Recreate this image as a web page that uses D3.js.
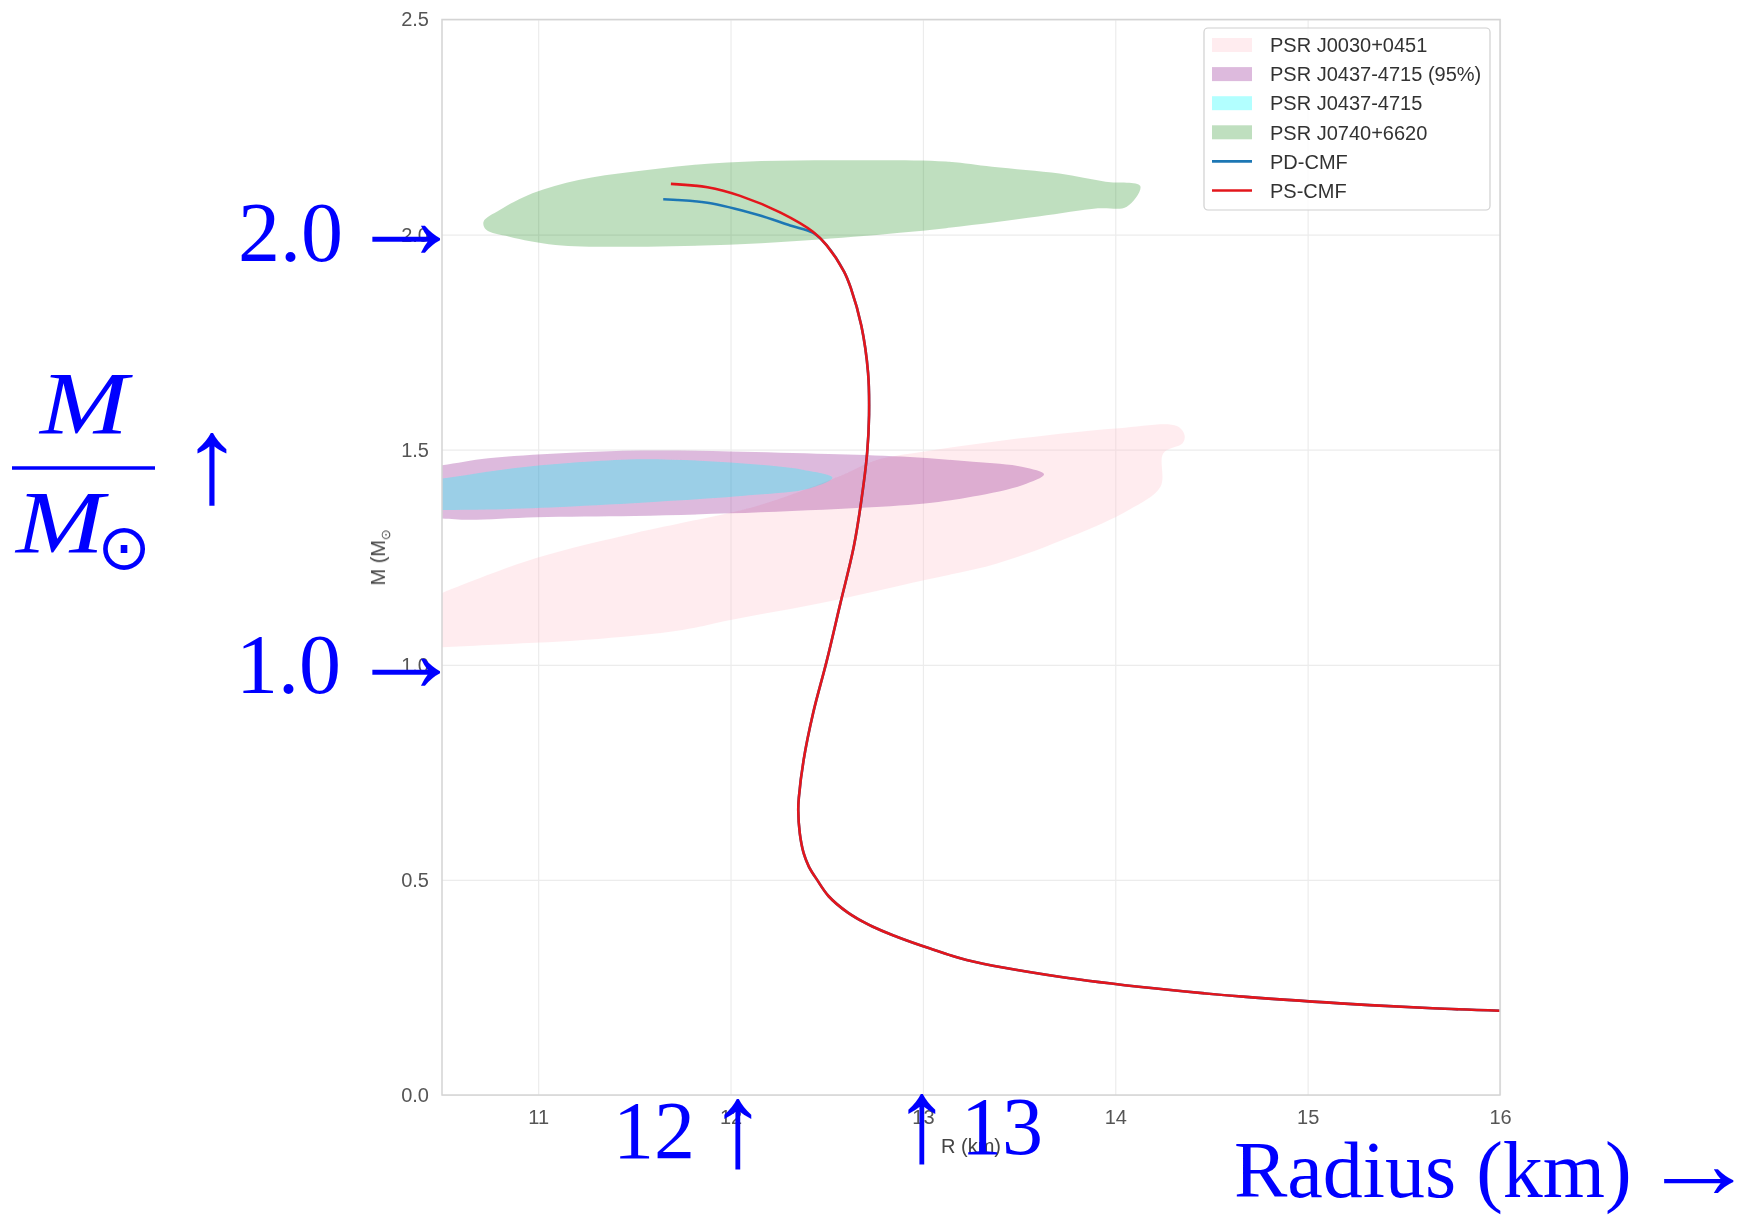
<!DOCTYPE html>
<html>
<head>
<meta charset="utf-8">
<script src="https://cdn.jsdelivr.net/npm/d3@7"></script>
<style>
  body { margin: 0; background: #fff; }
  svg { display: block; }
  .tick text { fill: #555; font-family: "Liberation Sans", Arial, sans-serif; font-size: 20px; }
  .anno { fill: #0000ff; font-family: "Liberation Serif", "DejaVu Serif", serif; }
</style>
</head>
<body>
<svg id="chart"></svg>
<script>
// axis ticks
var xTicks = [11, 12, 13, 14, 15, 16];
var yTicks = [0, 0.5, 1.0, 1.5, 2.0, 2.5];

// credible regions, [R (km), M (Msun)]
var j0030 = [[10.3, 1.13], [10.5, 1.167], [10.99, 1.248], [11.5, 1.306], [11.75, 1.33], [12.13, 1.368],
    [12.56, 1.437], [12.76, 1.476], [13.01, 1.496], [13.52, 1.527], [14.02, 1.55], [14.32, 1.555],
    [14.36, 1.534], [14.35, 1.515], [14.25, 1.492], [14.235, 1.414], [14.07, 1.36], [13.77, 1.298],
    [13.39, 1.236], [13.01, 1.197], [12.51, 1.147], [12.0, 1.104], [11.75, 1.081], [11.25, 1.058],
    [10.74, 1.046], [10.5, 1.041], [10.3, 1.04]];
var j0437_95 = [[10.3, 1.455], [10.5, 1.464], [10.74, 1.48], [11.12, 1.492], [11.55, 1.498], [12.0, 1.496],
    [12.51, 1.49], [12.89, 1.484], [13.26, 1.472], [13.52, 1.46], [13.63, 1.443], [13.52, 1.418],
    [13.26, 1.391], [13.01, 1.375], [12.63, 1.364], [12.0, 1.352], [11.5, 1.346], [10.99, 1.343],
    [10.64, 1.337], [10.5, 1.34], [10.3, 1.345]];
var j0437 = [[10.3, 1.425], [10.5, 1.433], [10.87, 1.457], [11.25, 1.472], [11.55, 1.478], [12.0, 1.47],
    [12.38, 1.453], [12.53, 1.435], [12.41, 1.41], [12.13, 1.395], [11.62, 1.379], [11.12, 1.367],
    [10.74, 1.361], [10.5, 1.36], [10.3, 1.36]];
var j0740 = [[10.716, 2.03], [10.8, 2.057], [10.97, 2.096], [11.21, 2.127], [11.49, 2.146], [11.8, 2.162],
    [12.16, 2.171], [12.64, 2.173], [13.12, 2.17], [13.36, 2.158], [13.71, 2.142], [13.95, 2.123],
    [14.13, 2.113], [14.06, 2.065], [13.91, 2.061], [13.6, 2.042], [13.12, 2.015], [12.64, 1.995],
    [12.16, 1.98], [11.57, 1.972], [11.09, 1.976], [10.85, 1.995], [10.73, 2.011]];

// mass-radius curves: separate tops, shared lower branch
var pdTop = [[11.65, 2.082], [11.88, 2.074], [12.14, 2.046], [12.31, 2.021], [12.43, 2.004]];
var psTop = [[11.69, 2.118], [11.88, 2.11], [12.05, 2.09], [12.26, 2.051], [12.43, 2.006]];
var sharedBranch = [[12.5, 1.975], [12.59, 1.914], [12.625, 1.876], [12.68, 1.788], [12.715, 1.678],
    [12.72, 1.58], [12.71, 1.492], [12.68, 1.382], [12.64, 1.273], [12.57, 1.141], [12.5, 1.009],
    [12.43, 0.889], [12.38, 0.779], [12.355, 0.691], [12.352, 0.662], [12.36, 0.608], [12.38, 0.562],
    [12.407, 0.531], [12.45, 0.5], [12.51, 0.462], [12.61, 0.424], [12.74, 0.391], [12.864, 0.368],
    [13.034, 0.341], [13.227, 0.314], [13.71, 0.275], [14.2, 0.248], [14.68, 0.228], [15.17, 0.213],
    [15.65, 0.2015], [16.0, 0.196]];

var legendLabels = ['PSR J0030+0451', 'PSR J0437-4715 (95%)', 'PSR J0437-4715', 'PSR J0740+6620', 'PD-CMF', 'PS-CMF'];

var width = 1758;
var height = 1216;

var svg = d3.select('#chart')
    .attr('width', width)
    .attr('height', height);

var x = d3.scaleLinear().domain([10.5, 16]).range([442, 1500]);
var y = d3.scaleLinear().domain([0, 2.5]).range([1095, 19.5]);

var defs = svg.append('defs');
defs.append('clipPath').attr('id', 'plotclip')
    .append('rect')
    .attr('x', x(10.5)).attr('y', y(2.5))
    .attr('width', x(16) - x(10.5)).attr('height', y(0) - y(2.5));
// the source picture is a little soft
defs.append('filter').attr('id', 'soft')
    .append('feGaussianBlur').attr('stdDeviation', 0.6);

var chart = svg.append('g').attr('filter', 'url(#soft)');

// grid
chart.append('g')
    .attr('transform', `translate(0,${y(0)})`)
    .call(d3.axisBottom(x).tickValues(xTicks).tickSize(-(y(0) - y(2.5))).tickFormat(''))
    .call(g => g.select('.domain').remove())
    .call(g => g.selectAll('line').attr('stroke', '#ececec').attr('stroke-width', 1.2));
chart.append('g')
    .attr('transform', `translate(${x(10.5)},0)`)
    .call(d3.axisLeft(y).tickValues(yTicks).tickSize(-(x(16) - x(10.5))).tickFormat(''))
    .call(g => g.select('.domain').remove())
    .call(g => g.selectAll('line').attr('stroke', '#ececec').attr('stroke-width', 1.2));

// regions
var area = d3.line()
    .x(d => x(d[0]))
    .y(d => y(d[1]))
    .curve(d3.curveCatmullRomClosed.alpha(0.5));

var regions = [
    {data: j0030, color: '#ffc0cb', op: 0.3},
    {data: j0437_95, color: '#800080', op: 0.27},
    {data: j0437, color: '#00ffff', op: 0.3},
    {data: j0740, color: '#008000', op: 0.25}
];

var regionG = chart.append('g').attr('clip-path', 'url(#plotclip)');
regionG.selectAll('path')
    .data(regions)
    .enter().append('path')
    .attr('d', d => area(d.data))
    .attr('fill', d => d.color)
    .attr('fill-opacity', d => d.op);

// curves
var curve = d3.line()
    .x(d => x(d[0]))
    .y(d => y(d[1]))
    .curve(d3.curveCatmullRom.alpha(0.5));

var lines = [
    {data: pdTop.concat(sharedBranch), color: '#1f77b4'},
    {data: psTop.concat(sharedBranch), color: '#e3161c'}
];
regionG.selectAll('path.mr')
    .data(lines)
    .enter().append('path')
    .attr('class', 'mr')
    .attr('d', d => curve(d.data))
    .attr('fill', 'none')
    .attr('stroke', d => d.color)
    .attr('stroke-width', 2.6);

// frame
chart.append('rect')
    .attr('x', x(10.5)).attr('y', y(2.5))
    .attr('width', x(16) - x(10.5)).attr('height', y(0) - y(2.5))
    .attr('fill', 'none')
    .attr('stroke', '#d4d4d4')
    .attr('stroke-width', 1.5);

// tick labels
chart.append('g')
    .attr('transform', `translate(0,${y(0)})`)
    .call(d3.axisBottom(x).tickValues(xTicks).tickSize(0).tickPadding(15).tickFormat(d3.format('d')))
    .call(g => g.select('.domain').remove());
chart.append('g')
    .attr('transform', `translate(${x(10.5)},0)`)
    .call(d3.axisLeft(y).tickValues(yTicks).tickSize(0).tickPadding(13).tickFormat(d3.format('.1f')))
    .call(g => g.select('.domain').remove());

chart.append('text')
    .attr('x', (x(10.5) + x(16)) / 2)
    .attr('y', 1153)
    .attr('text-anchor', 'middle')
    .attr('fill', '#444')
    .style('font-family', '"Liberation Sans", Arial, sans-serif')
    .style('font-size', '20px')
    .text('R (km)');

var ylab = chart.append('text')
    .attr('transform', `translate(385,${(y(0) + y(2.5)) / 2}) rotate(-90)`)
    .attr('text-anchor', 'middle')
    .attr('fill', '#444')
    .style('font-family', '"Liberation Sans", Arial, sans-serif')
    .style('font-size', '20px');
ylab.append('tspan').text('M (M');
ylab.append('tspan').attr('dy', 5).style('font-size', '13px').text('⊙');

// legend
var leg = chart.append('g');
leg.append('rect')
    .attr('x', 1204).attr('y', 28)
    .attr('width', 286).attr('height', 182)
    .attr('rx', 4)
    .attr('fill', '#fff').attr('fill-opacity', 0.85)
    .attr('stroke', '#d0d0d0').attr('stroke-width', 1.2);

var legItems = regions.map(r => ({type: 'patch', color: r.color, op: r.op}))
    .concat(lines.map(l => ({type: 'line', color: l.color})));
legItems.forEach(function(item, i) {
    var cy = 45 + i * 29.1;
    if (item.type === 'patch') {
        leg.append('rect')
            .attr('x', 1212).attr('y', cy - 7)
            .attr('width', 40).attr('height', 14)
            .attr('fill', item.color).attr('fill-opacity', item.op);
    } else {
        leg.append('line')
            .attr('x1', 1212).attr('x2', 1252)
            .attr('y1', cy).attr('y2', cy)
            .attr('stroke', item.color).attr('stroke-width', 2.6);
    }
    leg.append('text')
        .attr('x', 1270).attr('y', cy)
        .attr('dy', '0.36em')
        .attr('fill', '#333')
        .style('font-family', '"Liberation Sans", Arial, sans-serif')
        .style('font-size', '20px')
        .text(legendLabels[i]);
});

// blue hand annotations on top
var anno = svg.append('g').attr('class', 'anno');
function note(txt, px, py, size, opts) {
    opts = opts || {};
    var sx = opts.sx || 1, sy = opts.sy || 1;
    return anno.append('text')
        .attr('transform', `translate(${px},${py}) scale(${sx},${sy})`)
        .attr('text-anchor', opts.anchor || 'start')
        .style('font-size', size + 'px')
        .style('font-style', opts.italic ? 'italic' : 'normal')
        .text(txt);
}
note('2.0', 343, 261, 84, {anchor: 'end'});
note('→', 349, 258, 88, {sx: 1.3, sy: 1.3});
note('1.0', 341, 693, 84, {anchor: 'end'});
note('→', 349, 691, 88, {sx: 1.3, sy: 1.3});

note('M', 84, 433, 88, {anchor: 'middle', italic: true, sx: 1.2});
anno.append('line')
    .attr('x1', 12).attr('x2', 155)
    .attr('y1', 468).attr('y2', 468)
    .attr('stroke', '#0000ff').attr('stroke-width', 3.5);
note('M', 60, 552, 88, {anchor: 'middle', italic: true, sx: 1.2});
note('⊙', 124, 569, 64, {anchor: 'middle'}).style('font-family', '"DejaVu Sans", sans-serif');
note('↑', 212, 502, 88, {anchor: 'middle', sx: 1.4, sy: 1.4});

note('12', 695, 1158, 82, {anchor: 'end'});
note('↑', 738, 1166, 82, {anchor: 'middle', sx: 1.4, sy: 1.45});
note('↑', 922, 1161, 82, {anchor: 'middle', sx: 1.4, sy: 1.45});
note('13', 961, 1154, 82);

note('Radius (km)', 1234, 1197, 80);
note('→', 1640, 1198, 78, {sx: 1.5, sy: 1.3});
</script>
</body>
</html>
